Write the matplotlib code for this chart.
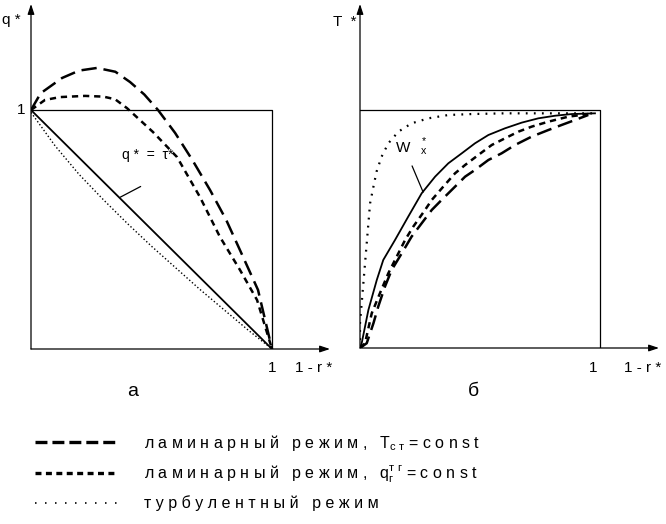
import numpy as np
import matplotlib.pyplot as plt
from matplotlib.lines import Line2D

# ===== шрифт =====
FONT = "Liberation Sans"
plt.rcParams.update({"font.family": [FONT, "DejaVu Sans"], "lines.scale_dashes": False,
                     "mathtext.fontset": "custom", "mathtext.rm": FONT, "mathtext.it": FONT})

# ===== данные: панель а (q* от 1-r*) =====
a_lamT_x = [0.0, 0.04, 0.129, 0.20, 0.274, 0.35, 0.411, 0.47, 0.527, 0.598, 0.67, 0.743, 0.81, 0.867, 0.942, 1.0]
a_lamT_y = [1.0, 1.07, 1.134, 1.165, 1.176, 1.16, 1.117, 1.065, 1.0, 0.904, 0.79, 0.665, 0.54, 0.414, 0.247, 0.0]
a_lamq_x = [0.0, 0.058, 0.120, 0.224, 0.30, 0.349, 0.398, 0.45, 0.506, 0.606, 0.701, 0.784, 0.867, 0.938, 1.0]
a_lamq_y = [1.0, 1.042, 1.054, 1.059, 1.056, 1.045, 1.008, 0.96, 0.908, 0.803, 0.636, 0.469, 0.331, 0.205, 0.0]
a_turb_x = [0.0, 0.1, 0.2, 0.3, 0.4, 0.5, 0.6, 0.7, 0.8, 0.9, 1.0]
a_turb_y = [0.99, 0.85, 0.73, 0.625, 0.525, 0.43, 0.34, 0.25, 0.165, 0.08, 0.0]
a_tau_x = [0.0, 1.0]
a_tau_y = [1.0, 0.0]

# ===== данные: панель б (T* от 1-r*) =====
b_turb_x = [0.0, 0.0, 0.0, 0.007, 0.014, 0.021, 0.028, 0.035, 0.042, 0.056, 0.069, 0.090, 0.118, 0.160,
            0.215, 0.285, 0.368, 0.465, 0.604, 0.813, 0.979]
b_turb_y = [0.0, 0.020, 0.104, 0.188, 0.272, 0.356, 0.440, 0.524, 0.608, 0.678, 0.741, 0.804, 0.860, 0.909,
            0.944, 0.965, 0.979, 0.983, 0.986, 0.986, 0.986]
b_w_x = [0.0, 0.007, 0.035, 0.070, 0.097, 0.146, 0.201, 0.257, 0.313, 0.368, 0.424, 0.479, 0.535, 0.604,
         0.674, 0.743, 0.813, 0.882, 0.979]
b_w_y = [0.0, 0.020, 0.160, 0.286, 0.370, 0.454, 0.552, 0.650, 0.720, 0.776, 0.818, 0.860, 0.895, 0.923,
         0.947, 0.965, 0.976, 0.983, 0.986]
b_lamq_x = [0.0, 0.021, 0.049, 0.083, 0.118, 0.160, 0.188, 0.222, 0.271, 0.299, 0.347, 0.396, 0.438, 0.493,
            0.549, 0.604, 0.660, 0.715, 0.785, 0.868, 0.951]
b_lamq_y = [0.0, 0.020, 0.146, 0.230, 0.314, 0.398, 0.454, 0.510, 0.580, 0.622, 0.678, 0.734, 0.769, 0.811,
            0.853, 0.881, 0.909, 0.930, 0.951, 0.972, 0.983]
b_lamT_x = [0.0, 0.028, 0.056, 0.076, 0.104, 0.132, 0.174, 0.215, 0.257, 0.299, 0.340, 0.396, 0.438, 0.479,
            0.535, 0.590, 0.646, 0.715, 0.785, 0.840, 0.896, 0.951]
b_lamT_y = [0.0, 0.020, 0.104, 0.174, 0.258, 0.328, 0.398, 0.468, 0.524, 0.580, 0.622, 0.678, 0.720, 0.748,
            0.790, 0.818, 0.853, 0.888, 0.916, 0.937, 0.958, 0.979]

legend_labels = [
    "л а м и н а р н ы й   р е ж и м ,   $\\mathregular{T_{с\\ т}}$ = c o n s t",
    "л а м и н а р н ы й   р е ж и м ,   $\\mathregular{q_{г}^{т\\ г}}$ = c o n s t",
    "т у р б у л е н т н ы й   р е ж и м",
]

# ===== стили =====
LONG = dict(color="black", lw=1.8, dashes=(11, 5))
SHORT = dict(color="black", lw=1.8, dashes=(4.5, 3.5))
DOT_A = dict(color="black", lw=1.0, dashes=(1, 1.6))
DOT_B = dict(color="black", lw=1.6, dashes=(1.3, 4.5))
SOLID = dict(color="black", lw=1.3)

W, H = 666, 524
fig = plt.figure(figsize=(W / 100, H / 100), dpi=100)


def panel(x0, y0, sx, sy, xend, ytop):
    # оси в пикселях: начало (x0, y0), 1 по x -> sx px, 1 по y -> sy px
    xmax = (xend - x0) / sx
    ymax = (y0 - ytop) / sy
    ax = fig.add_axes([x0 / W, (H - y0) / H, (xend - x0) / W, (y0 - ytop) / H])
    ax.set_xlim(0, xmax)
    ax.set_ylim(0, ymax)
    ax.axis("off")
    arr = dict(arrowstyle="-|>,head_length=0.6,head_width=0.2", color="black", lw=0.9,
               shrinkA=0, shrinkB=0)
    ax.annotate("", xy=(xmax, 0), xytext=(0, 0), arrowprops=arr, annotation_clip=False)
    ax.annotate("", xy=(0, ymax), xytext=(0, 0), arrowprops=arr, annotation_clip=False)
    ax.plot([0, 1, 1], [1, 1, 0], color="black", lw=0.9)
    return ax


leader = dict(arrowstyle="-", color="black", lw=0.9, shrinkA=0, shrinkB=0)

# ===== панель а =====
axa = panel(31, 349, 241, 239, 330, 4)
axa.plot(a_lamT_x, a_lamT_y, **LONG)
axa.plot(a_lamq_x, a_lamq_y, **SHORT)
axa.plot(a_turb_x, a_turb_y, **DOT_A)
axa.plot(a_tau_x, a_tau_y, **SOLID)
axa.annotate("", xy=(0.37, 0.635), xytext=(0.455, 0.68), arrowprops=leader)
axa.text(0.485, 0.812, "q *  =  τ*", ha="center", va="center", fontsize=10)

# ===== панель б =====
axb = panel(360, 348, 240, 238, 659, 4)
axb.plot(b_turb_x, b_turb_y, **DOT_B)
axb.plot(b_lamT_x, b_lamT_y, **LONG)
axb.plot(b_lamq_x, b_lamq_y, **SHORT)
axb.plot(b_w_x, b_w_y, **SOLID)
axb.annotate("", xy=(0.263, 0.655), xytext=(0.217, 0.765), arrowprops=leader)
axb.text(0.18, 0.84, "W", ha="center", va="center", fontsize=11)
axb.text(0.265, 0.845, "$\\mathregular{{}_x^*}$", ha="center", va="center", fontsize=11)

# ===== подписи =====
ov = fig.add_axes([0, 0, 1, 1], zorder=-1)
ov.set_xlim(0, W)
ov.set_ylim(H, 0)
ov.axis("off")
fs = 11
ov.text(2, 20, "q *", ha="left", va="center", fontsize=fs)
ov.text(17, 110, "1", ha="left", va="center", fontsize=fs)
ov.text(272, 368, "1", ha="center", va="center", fontsize=fs)
ov.text(314, 368, "1 - r *", ha="center", va="center", fontsize=fs)
ov.text(133, 391, "а", ha="center", va="center", fontsize=14)
ov.text(333, 22, "T  *", ha="left", va="center", fontsize=fs)
ov.text(593, 368, "1", ha="center", va="center", fontsize=fs)
ov.text(643, 368, "1 - r *", ha="center", va="center", fontsize=fs)
ov.text(473, 391, "б", ha="center", va="center", fontsize=14)

# ===== легенда =====
handles = [Line2D([], [], color="black", lw=2.4, dashes=(8.6, 3.6)),
           Line2D([], [], color="black", lw=2.4, dashes=(4.3, 3.2)),
           Line2D([], [], color="black", lw=1.2, dashes=(1.1, 6.1))]
fig.legend(handles, legend_labels, loc="upper left", bbox_to_anchor=(35 / W, 1 - 433 / H),
           frameon=False, fontsize=11.5, handlelength=5.2, handletextpad=1.6,
           labelspacing=0.65, borderpad=0, borderaxespad=0)

fig.savefig("out.png", dpi=100)
